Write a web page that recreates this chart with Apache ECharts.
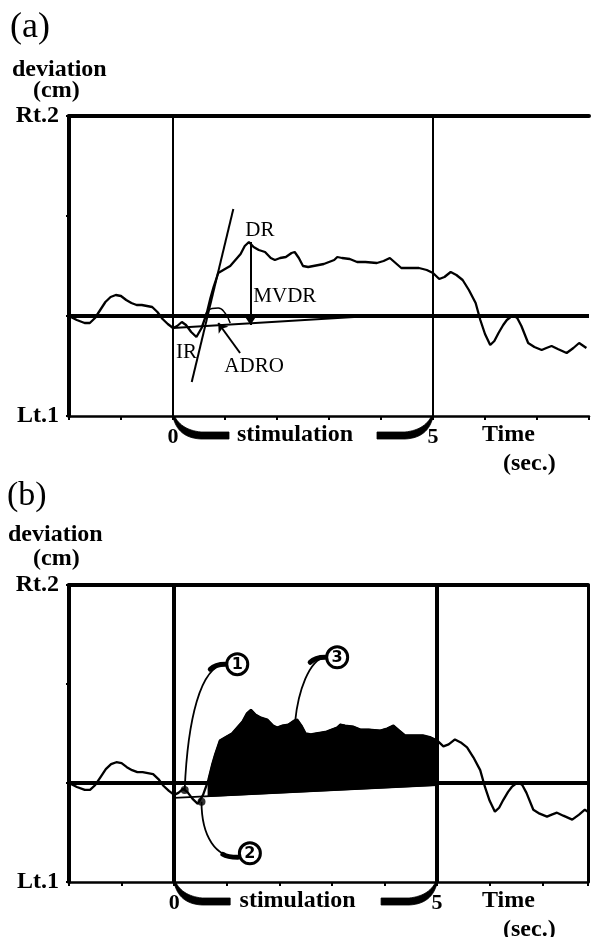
<!DOCTYPE html>
<html><head><meta charset="utf-8">
<script src="https://cdn.jsdelivr.net/npm/echarts@6/dist/echarts.min.js"></script>
<style>html,body{margin:0;padding:0;background:#fff}#c{width:592px;height:937px}</style>
</head><body><div id="c"></div>
<script>
// ---- data (time in seconds, deviation in cm; + = right, - = left) ----
const signalT = [-2.00,-1.85,-1.70,-1.60,-1.50,-1.40,-1.30,-1.20,-1.10,-1.00,-0.90,-0.80,-0.70,-0.60,-0.50,-0.40,-0.30,-0.20,-0.10,0.00,0.08,0.17,0.25,0.35,0.45,0.55,0.65,0.72,0.78,0.87,1.00,1.10,1.20,1.30,1.38,1.46,1.55,1.65,1.77,1.88,1.96,2.06,2.17,2.28,2.34,2.42,2.50,2.60,2.70,2.80,2.90,3.00,3.10,3.16,3.25,3.40,3.54,3.70,3.92,4.05,4.17,4.28,4.39,4.55,4.73,4.88,5.00,5.12,5.22,5.34,5.45,5.57,5.69,5.82,5.91,6.00,6.10,6.18,6.26,6.35,6.42,6.54,6.62,6.70,6.83,6.95,7.09,7.18,7.28,7.40,7.57,7.70,7.81,7.95];
const signalY = [0.00,-0.04,-0.07,-0.07,-0.02,0.06,0.14,0.19,0.21,0.20,0.16,0.13,0.11,0.11,0.10,0.09,0.04,-0.03,-0.08,-0.12,-0.10,-0.06,-0.09,-0.16,-0.21,-0.12,0.03,0.18,0.29,0.43,0.47,0.50,0.56,0.62,0.70,0.74,0.69,0.66,0.64,0.58,0.56,0.58,0.59,0.63,0.64,0.58,0.50,0.49,0.50,0.51,0.52,0.54,0.56,0.59,0.58,0.57,0.54,0.54,0.53,0.55,0.58,0.53,0.48,0.48,0.48,0.46,0.43,0.37,0.39,0.44,0.41,0.36,0.26,0.13,-0.04,-0.18,-0.29,-0.25,-0.17,-0.09,-0.04,0.01,-0.02,-0.10,-0.27,-0.31,-0.34,-0.32,-0.30,-0.33,-0.37,-0.32,-0.27,-0.32];
const xTickLabels = {'0':'0','5':'5'};
const yTickLabels = {'2':'Rt.2','-1':'Lt.1'};
const stimStart = 0, stimEnd = 5;
// annotation geometry (data units)
const baselineA = [[0,-0.12],[3.8,0.0]];
const baselineB = [[0,-0.15],[5,-0.02]];
const tangentIR = [[0.36,-0.66],[1.16,1.07]];
const arrowMVDR = [[1.49,0.74],[1.49,-0.09]];
const arrowADRO = [[1.29,-0.37],[0.87,-0.07]];
const arcADRO = [[0.63,0.02],[0.75,0.075],[0.87,0.08],[1.0,0.03],[1.1,-0.07]];
const fillFrom = 0.6;
const labelsA = [{text:'DR',at:[1.67,0.86]},{text:'MVDR',at:[2.15,0.20]},{text:'IR',at:[0.26,-0.36]},{text:'ADRO',at:[1.56,-0.50]}];
const markersB = [{text:'1',circle:[1.20,1.20],anchor:[0.20,-0.07]},{text:'2',circle:[1.44,-0.71],anchor:[0.52,-0.19]},{text:'3',circle:[3.10,1.27],anchor:[2.30,0.62]}];

const signal = signalT.map((t,i)=>[t,signalY[i]]);
const SERIF = 'Liberation Serif';
const black = '#000';

function xAxisDef(grid, max, bottom){
  return {
    gridIndex:grid, type:'value', min:-2, max:max, interval:1,
    position: bottom?'bottom':'top',
    axisLine:{show:true,onZero:false,lineStyle:{color:black,width:bottom?2.5:4}},
    axisTick:{show:bottom,length:4,lineStyle:{color:black,width:2}},
    axisLabel:{show:bottom,margin:10,color:black,fontFamily:SERIF,fontWeight:'bold',fontSize:22,
      formatter:v=>xTickLabels[String(v)]||''},
    splitLine:{show:false}
  };
}
function yAxisDef(grid, left){
  return {
    gridIndex:grid, type:'value', min:-1, max:2, interval:1,
    position: left?'left':'right',
    axisLine:{show:true,onZero:false,lineStyle:{color:black,width:left?4:3}},
    axisTick:{show:left,length:3,lineStyle:{color:black,width:2}},
    axisLabel:{show:left,margin:10,color:black,fontFamily:SERIF,fontWeight:'bold',fontSize:24,
      showMinLabel:true,showMaxLabel:true, formatter:v=>yTickLabels[String(v)]||''},
    splitLine:{show:false}
  };
}
function refLines(vWidth){
  return {symbol:'none',silent:true,label:{show:false},animation:false,
    lineStyle:{color:black,type:'solid'},
    data:[{yAxis:0,lineStyle:{width:4,color:black,type:'solid'}},
          {xAxis:stimStart,lineStyle:{width:vWidth,color:black,type:'solid'}},
          {xAxis:stimEnd,lineStyle:{width:vWidth,color:black,type:'solid'}}]};
}
function baseAt(line,t){ // point on a straight annotation line
  const [a,b]=line; return a[1]+(b[1]-a[1])*(t-a[0])/(b[0]-a[0]);
}
const fillTop = signal.filter(p=>p[0]>=fillFrom && p[0]<=stimEnd);
const fillPoly = [[fillTop[0][0],baseAt(baselineB,fillTop[0][0])]].concat(fillTop,[[stimEnd,baseAt(baselineB,stimEnd)]]);

const chart = echarts.init(document.getElementById('c'),null,{renderer:'canvas'});
chart.setOption({
  animation:false,
  backgroundColor:'#fff',
  grid:[{left:69,top:116,width:526,height:300},{left:69,top:585,width:519,height:297}],
  xAxis:[xAxisDef(0,8,true),xAxisDef(0,8,false),xAxisDef(1,7.87,true),xAxisDef(1,7.87,false)],
  yAxis:[yAxisDef(0,true),yAxisDef(1,true),yAxisDef(1,false)],
  series:[
    // panel (a)
    {type:'line',xAxisIndex:0,yAxisIndex:0,data:signal,showSymbol:false,symbol:'none',
     lineStyle:{color:black,width:2.3},markLine:refLines(2),z:3},
    {type:'line',xAxisIndex:0,yAxisIndex:0,data:baselineA,symbol:'none',lineStyle:{color:black,width:1.8},z:3},
    {type:'line',xAxisIndex:0,yAxisIndex:0,data:tangentIR,symbol:'none',lineStyle:{color:black,width:2},z:3},
    {type:'line',xAxisIndex:0,yAxisIndex:0,data:arcADRO,symbol:'none',smooth:true,lineStyle:{color:black,width:1.5},z:3},
    {type:'lines',coordinateSystem:'cartesian2d',xAxisIndex:0,yAxisIndex:0,
     symbol:['none','arrow'],symbolSize:9,
     lineStyle:{color:black,width:2,opacity:1,curveness:0},
     data:[{coords:arrowMVDR},{coords:arrowADRO}],z:4},
    // panel (b)
    {type:'line',xAxisIndex:2,yAxisIndex:1,data:signal,showSymbol:false,symbol:'none',
     lineStyle:{color:black,width:2.3},markLine:refLines(4),z:3},
    {type:'line',xAxisIndex:2,yAxisIndex:1,data:baselineB,symbol:'none',lineStyle:{color:black,width:1.8},z:3},
    {type:'custom',xAxisIndex:2,yAxisIndex:1,data:[[0,0]],z:4,
     renderItem:function(params,api){
       const pts = fillPoly.map(p=>api.coord(p));
       return {type:'polygon',shape:{points:pts},style:{fill:black,stroke:black,lineWidth:1.5}};
     }},
    {type:'scatter',xAxisIndex:2,yAxisIndex:1,data:markersB.slice(0,2).map(m=>m.anchor),
     symbol:'circle',symbolSize:8,itemStyle:{color:black},z:5}
  ]
});

// ---- annotations placed through the chart's own scales ----
const pa = p=>chart.convertToPixel({xAxisIndex:0,yAxisIndex:0},p);
const pb = p=>chart.convertToPixel({xAxisIndex:2,yAxisIndex:1},p);
const g = [];
function txt(x,y,s,size,weight,align){
  g.push({type:'text',x:x,y:y,silent:true,z:20,style:{text:s,fill:black,fontFamily:SERIF,fontSize:size,fontWeight:weight||'normal',textAlign:align||'left',textVerticalAlign:'middle'}});
}
function quad(p0,p1,p2,n){
  const out=[];
  for(let i=0;i<=n;i++){const t=i/n,u=1-t;
    out.push([u*u*p0[0]+2*u*t*p1[0]+t*t*p2[0], u*u*p0[1]+2*u*t*p1[1]+t*t*p2[1]]);}
  return out;
}
// titles
txt(10,28,'(a)',36,'normal');
txt(12,70,'deviation',24,'bold');
txt(33,91,'(cm)',24,'bold');
txt(7,496,'(b)',34,'normal');
txt(8,535,'deviation',24,'bold');
txt(33,559,'(cm)',24,'bold');
// panel bottom labels + stimulation brackets
function bracket(xa, yb, dir){
  const outer = quad([xa,yb+1],[xa+dir*5,yb+22],[xa+dir*28,yb+23],14);
  const inner = quad([xa+dir*28,yb+16],[xa+dir*9,yb+14],[xa+dir*2,yb+1],14);
  const pts = outer.concat([[xa+dir*56,yb+23],[xa+dir*56,yb+16]],inner);
  g.push({type:'polygon',silent:true,z:20,shape:{points:pts},style:{fill:black,stroke:black,lineWidth:0.8}});
}
function bottomStuff(conv){
  const p0 = conv([stimStart,-1]), p5 = conv([stimEnd,-1]);
  const x0=p0[0], x5=p5[0], yb=p0[1];
  txt((x0+x5)/2-8, yb+19, 'stimulation',24,'bold','center');
  txt(482, yb+19, 'Time',24,'bold');
  txt(503, yb+48, '(sec.)',24,'bold');
  bracket(x0,yb,1);
  bracket(x5,yb,-1);
}
bottomStuff(pa);
bottomStuff(pb);
// panel (a) text labels
labelsA.forEach(l=>{const p=pa(l.at); txt(p[0],p[1],l.text,21,'normal','center');});
// panel (b) circled markers with leaders
markersB.forEach((m,i)=>{
  const c = pb(m.circle), e = pb(m.anchor);
  const s = [c[0]-12,c[1]+(i===1?4:0)];
  let cp1, cp2;
  if(i===0){cp1=[s[0]-25,s[1]+2];cp2=[e[0]+3,e[1]-70];}
  else if(i===1){cp1=[s[0]-22,s[1]];cp2=[e[0],e[1]+35];}
  else {cp1=[s[0]-16,s[1]+2];cp2=[e[0]+3,e[1]-30];}
  g.push({type:'bezierCurve',silent:true,z:19,shape:{x1:s[0],y1:s[1],cpx1:cp1[0],cpy1:cp1[1],cpx2:cp2[0],cpy2:cp2[1],x2:e[0],y2:e[1]},style:{stroke:black,lineWidth:1.8,fill:null}});
  g.push({type:'bezierCurve',silent:true,z:19,shape:{x1:s[0],y1:s[1],cpx1:s[0]-6,cpy1:s[1],cpx2:s[0]-12,cpy2:s[1]+(i===1?-1:2),x2:s[0]-15,y2:s[1]+(i===1?-3:5)},style:{stroke:black,lineWidth:5,fill:null,lineCap:'round'}});
  g.push({type:'circle',silent:true,z:21,shape:{cx:c[0],cy:c[1],r:10.5},style:{fill:'#fff',stroke:black,lineWidth:3}});
  g.push({type:'text',silent:true,z:22,x:c[0],y:c[1]+1,style:{text:m.text,fill:black,fontFamily:'DejaVu Sans',fontWeight:'bold',fontSize:16,textAlign:'center',textVerticalAlign:'middle'}});
});
chart.setOption({graphic:g});
</script></body></html>
